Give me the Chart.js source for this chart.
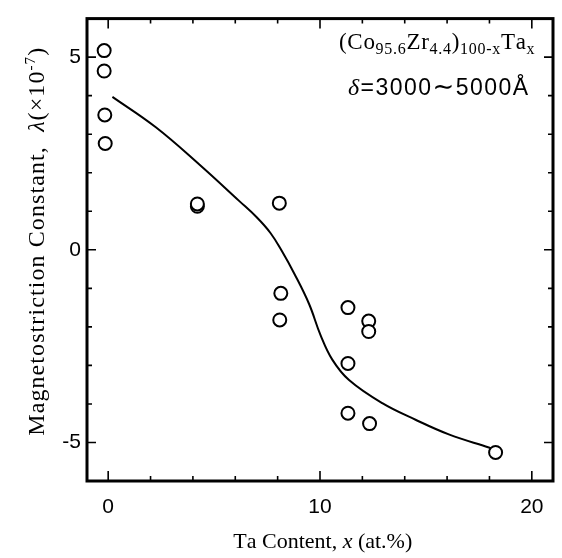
<!DOCTYPE html>
<html>
<head>
<meta charset="utf-8">
<script src="https://cdn.jsdelivr.net/npm/chart.js@4"></script>
<style>
  html, body { margin: 0; padding: 0; background: #fff; }
  #wrap { width: 562px; height: 558px; }
</style>
</head>
<body>
<div id="wrap"><canvas id="c" width="562" height="558"></canvas></div>
<script>
// ---- data ----
const pointX = [-0.19, -0.19, -0.16, -0.14, 4.21, 4.21, 8.08, 8.15, 8.10, 11.32, 12.30, 12.30, 11.32, 11.32, 12.34, 18.29];
const pointY = [5.17, 4.64, 3.50, 2.76, 1.13, 1.19, 1.21, -1.13, -1.82, -1.50, -1.85, -2.12, -2.95, -4.24, -4.51, -5.26];

const curveX = [0.20, 2.25, 4.29, 6.18, 7.00, 7.67, 8.22, 8.77, 9.48, 10.03, 10.58, 11.37, 12.94, 14.51, 16.08, 17.97, 18.29];
const curveY = [3.97, 3.18, 2.22, 1.27, 0.85, 0.43, -0.05, -0.60, -1.40, -2.22, -2.85, -3.38, -3.98, -4.41, -4.79, -5.13, -5.19];

const xLabelTicks = [0, 10, 20];
const xMinorTicks = [2, 4, 6, 8, 12, 14, 16, 18];
const yLabelTicks = [-5, 0, 5];
const yMinorTicks = [-4, -3, -2, -1, 1, 2, 3, 4];

const xTitle = [
  { t: 'Ta Content, ', f: '22px "Liberation Serif"' },
  { t: 'x', f: 'italic 22px "Liberation Serif"' },
  { t: ' (at.%)', f: '22px "Liberation Serif"' }
];
const yTitle = [
  { t: 'Magnetostriction Constant,  ', f: '24px "Liberation Serif"' },
  { t: 'λ', f: 'italic 24px "Liberation Serif"' },
  { t: '(×10', f: '24px "Liberation Serif"' },
  { t: '-7', f: '15px "Liberation Serif"', dy: -9 },
  { t: ')', f: '24px "Liberation Serif"' }
];
const note1 = [
  { t: '(Co', f: '23px "Liberation Serif"' },
  { t: '95.6', f: '16px "Liberation Serif"', dy: 5 },
  { t: 'Zr', f: '23px "Liberation Serif"' },
  { t: '4.4', f: '16px "Liberation Serif"', dy: 5 },
  { t: ')', f: '23px "Liberation Serif"' },
  { t: '100-x', f: '16px "Liberation Serif"', dy: 5 },
  { t: 'Ta', f: '23px "Liberation Serif"' },
  { t: 'x', f: '16px "Liberation Serif"', dy: 5 }
];
const note2 = [
  { t: 'δ', f: 'italic 24px "Liberation Serif"' },
  { t: '=3000', f: '23px "Liberation Sans"' },
  { t: '∼', f: '26px "DejaVu Sans"' },
  { t: '5000Å', f: '23px "Liberation Sans"' }
];

function richWidth(ctx, segs) {
  let w = 0, n = 0;
  segs.forEach(s => { ctx.font = s.f; w += ctx.measureText(s.t).width; n += [...s.t].length; });
  return { w, n };
}
function drawRich(ctx, segs, x, y, align, target) {
  const { w, n } = richWidth(ctx, segs);
  let sp = 0;
  if (target && n > 1) sp = Math.max(0, (target - w) / (n - 1));
  const total = w + sp * (n - 1);
  let cx = align === 'center' ? x - total / 2 : (align === 'right' ? x - total : x);
  ctx.textAlign = 'left';
  ctx.textBaseline = 'alphabetic';
  ctx.fillStyle = '#000';
  segs.forEach(s => {
    ctx.font = s.f;
    for (const ch of s.t) {
      ctx.fillText(ch, cx, y + (s.dy || 0));
      cx += ctx.measureText(ch).width + sp;
    }
  });
}

const framePlugin = {
  id: 'frame',
  beforeDraw(chart) {
    const ctx = chart.ctx;
    ctx.save();
    ctx.fillStyle = '#fff';
    ctx.fillRect(0, 0, chart.width, chart.height);
    ctx.restore();
  },
  afterDraw(chart) {
    const ctx = chart.ctx;
    const a = chart.chartArea;
    const xs = chart.scales.x, ys = chart.scales.y;
    ctx.save();
    ctx.strokeStyle = '#000';
    ctx.lineWidth = 1.6;
    ctx.beginPath();
    const tickX = (v, len) => {
      const p = xs.getPixelForValue(v);
      ctx.moveTo(p, a.bottom); ctx.lineTo(p, a.bottom - len);
      ctx.moveTo(p, a.top); ctx.lineTo(p, a.top + len);
    };
    const tickY = (v, len) => {
      const p = ys.getPixelForValue(v);
      ctx.moveTo(a.left, p); ctx.lineTo(a.left + len, p);
      ctx.moveTo(a.right, p); ctx.lineTo(a.right - len, p);
    };
    xLabelTicks.forEach(v => tickX(v, 10));
    xMinorTicks.forEach(v => tickX(v, 5));
    yLabelTicks.forEach(v => tickY(v, 9));
    yMinorTicks.forEach(v => tickY(v, 5));
    ctx.stroke();
    ctx.lineWidth = 3;
    ctx.strokeRect(a.left, a.top, a.right - a.left, a.bottom - a.top);

    drawRich(ctx, xTitle, (a.left + a.right) / 2 + 2, 548, 'center');
    ctx.save();
    ctx.translate(44, (a.top + a.bottom) / 2 - 8);
    ctx.rotate(-Math.PI / 2);
    drawRich(ctx, yTitle, 0, 0, 'center', 388);
    ctx.restore();

    drawRich(ctx, note1, a.right - 20, 49, 'right', 194);
    drawRich(ctx, note2, a.right - 25, 95, 'right', 180);
    ctx.restore();
  }
};

const tickFont = { family: '"Liberation Sans", Arial, sans-serif', size: 21 };

new Chart(document.getElementById('c'), {
  type: 'scatter',
  data: {
    datasets: [
      {
        label: 'measured',
        data: pointX.map((x, i) => ({ x, y: pointY[i] })),
        pointStyle: 'circle',
        pointRadius: 6.5,
        pointHoverRadius: 6.5,
        borderWidth: 2,
        borderColor: '#000',
        backgroundColor: '#fff',
        showLine: false
      },
      {
        label: 'fit',
        type: 'line',
        data: curveX.map((x, i) => ({ x, y: curveY[i] })),
        borderColor: '#000',
        borderWidth: 2,
        pointRadius: 0,
        fill: false,
        tension: 0.4
      }
    ]
  },
  options: {
    responsive: false,
    animation: false,
    devicePixelRatio: 1,
    layout: { padding: { top: 12, right: 9, left: 0, bottom: 0 } },
    plugins: { legend: { display: false }, tooltip: { enabled: false } },
    scales: {
      x: {
        type: 'linear',
        min: -1, max: 21,
        afterBuildTicks: s => { s.ticks = xLabelTicks.map(v => ({ value: v })); },
        afterFit: s => { s.height = 77; },
        grid: { display: false, drawTicks: false },
        border: { display: false },
        ticks: { font: tickFont, color: '#000', padding: 14, maxRotation: 0, autoSkip: false }
      },
      y: {
        type: 'linear',
        min: -6, max: 6,
        afterBuildTicks: s => { s.ticks = yLabelTicks.map(v => ({ value: v })); },
        afterFit: s => { s.width = 87; },
        grid: { display: false, drawTicks: false },
        border: { display: false },
        ticks: { font: tickFont, color: '#000', padding: 6, autoSkip: false }
      }
    }
  },
  plugins: [framePlugin]
});
</script>
</body>
</html>
